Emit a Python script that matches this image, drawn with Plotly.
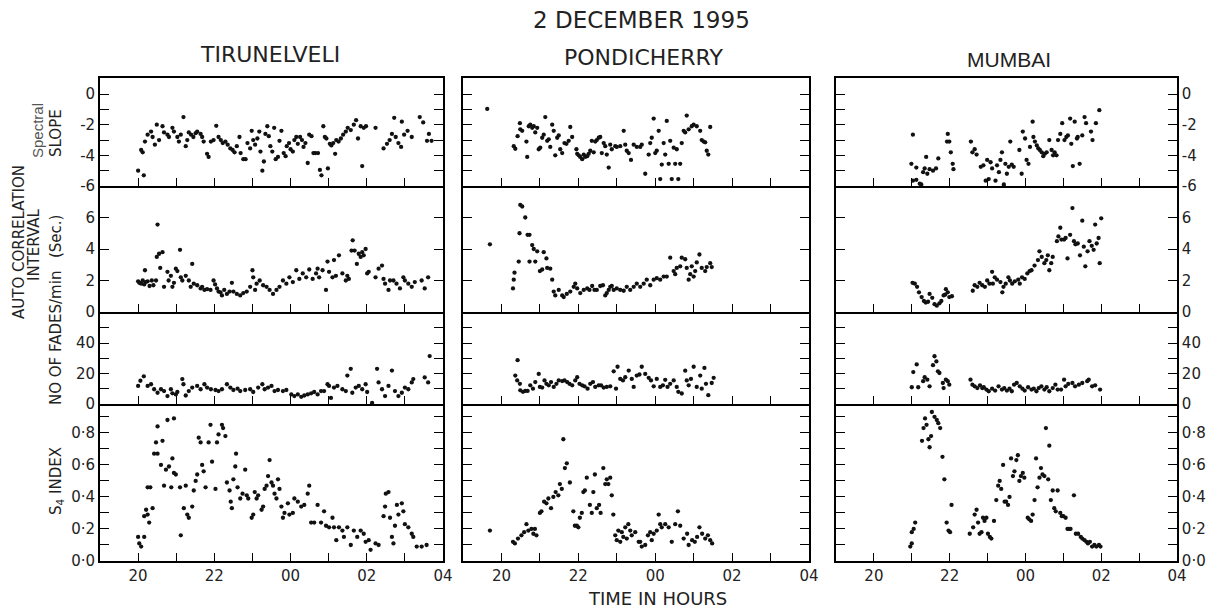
import plotly.graph_objects as go

# ---------------- DATA (time in hours, 24 = 00 h) ----------------
tir_slope_t = [20.00,20.15,20.08,20.12,20.18,20.25,20.34,20.38,20.44,20.49,20.55,20.64,20.68,20.77,20.81,20.90,20.94,21.03,21.07,21.12,
21.19,21.25,21.29,21.33,21.39,21.45,21.51,21.55,21.64,21.68,21.72,21.81,21.85,21.91,21.98,22.05,22.11,22.17,22.22,22.29,
22.35,22.42,22.48,22.53,22.59,22.66,22.69,22.76,22.82,22.87,22.94,22.98,23.02,23.07,23.13,23.18,23.21,23.26,23.30,23.34,
23.39,23.43,23.47,23.52,23.57,23.61,23.67,23.71,23.76,23.82,23.87,23.90,23.96,24.00,24.06,24.10,24.15,24.19,24.25,24.30,
24.34,24.39,24.45,24.49,24.55,24.60,24.65,24.72,24.77,24.81,24.86,24.90,24.94,24.98,25.03,25.07,25.12,25.17,25.20,25.26,
25.32,25.38,25.45,25.50,25.58,25.66,25.72,25.77,25.84,25.88,25.92,25.98,26.23,26.44,26.53,26.60,26.66,26.72,26.76,26.83,
26.90,26.92,26.98,27.07,27.18,27.39,27.48,27.58,27.63,27.70]
tir_slope_v = [-5.0,-5.3,-3.65,-3.8,-3.1,-2.65,-2.45,-2.8,-3.3,-2.0,-3.0,-2.1,-2.5,-2.65,-2.8,-2.2,-2.45,-2.8,-3.1,-2.65,
-1.5,-3.4,-3.0,-2.5,-2.65,-2.8,-2.55,-2.45,-2.6,-2.8,-3.1,-3.9,-4.1,-3.1,-3.0,-2.07,-2.8,-3.0,-3.2,-3.1,
-3.3,-3.55,-3.65,-3.8,-3.4,-2.8,-3.85,-4.25,-4.25,-3.2,-3.55,-2.4,-3.0,-3.3,-2.9,-2.45,-3.75,-5.0,-4.4,-2.6,
-2.1,-2.75,-3.4,-3.75,-2.2,-4.25,-4.1,-3.05,-2.4,-3.85,-4.05,-3.4,-3.2,-3.6,-3.75,-3.0,-2.8,-3.25,-2.8,-3.0,
-3.45,-3.2,-4.5,-2.65,-2.75,-3.85,-3.85,-3.85,-4.95,-5.3,-2.1,-2.8,-2.9,-4.85,-3.25,-3.35,-3.2,-3.9,-3.0,-3.1,
-2.9,-2.65,-2.45,-2.2,-2.35,-2.0,-1.7,-2.9,-2.1,-4.7,-2.2,-2.1,-2.2,-3.55,-3.25,-3.0,-2.6,-1.55,-2.8,-3.2,
-3.45,-1.8,-2.65,-2.4,-2.8,-1.5,-1.85,-3.05,-2.6,-3.05]

tir_aci_t = [20.0,20.03,20.08,20.12,20.16,20.2,20.18,20.25,20.3,20.36,20.4,20.47,20.49,20.51,20.55,20.58,20.64,20.68,20.77,20.8,
20.86,20.9,20.94,20.99,21.03,21.1,21.12,21.16,21.25,21.33,21.38,21.42,21.46,21.55,21.64,21.68,21.74,21.81,21.9,21.98,
22.02,22.07,22.11,22.16,22.2,22.26,22.33,22.4,22.46,22.5,22.59,22.68,22.94,23.0,23.02,23.07,23.11,23.19,23.28,23.37,
23.45,23.54,23.63,23.71,23.8,23.89,23.97,24.06,24.15,24.23,24.32,24.41,24.49,24.58,24.67,24.71,24.75,24.84,24.93,24.97,
25.01,25.1,25.14,25.19,25.27,25.36,25.45,25.49,25.53,25.6,25.63,25.68,25.74,25.79,25.84,25.88,25.92,25.97,26.01,26.05,
26.23,26.31,26.4,26.44,26.48,26.57,26.61,26.7,26.78,26.87,26.96,27.0,27.09,27.18,27.26,27.44,27.52,27.61,22.76,22.85]
tir_aci_v = [1.95,1.85,1.8,2.0,1.75,1.9,2.65,1.95,1.65,2.0,1.7,2.0,3.5,5.55,3.7,2.8,3.8,1.6,2.55,2.0,
2.3,1.6,1.85,2.75,2.6,3.95,2.2,2.0,2.3,2.0,1.6,3.05,1.8,1.7,1.5,1.6,1.4,1.45,1.4,2.0,
1.75,1.5,1.3,1.25,1.05,1.4,1.15,1.3,1.85,1.3,1.15,1.05,1.6,2.65,2.2,1.4,1.8,2.0,1.7,1.6,
1.4,1.15,1.4,1.6,2.0,1.8,2.2,1.9,2.65,2.1,2.45,2.2,2.7,2.1,2.45,2.75,2.2,2.65,1.4,3.2,
2.55,2.2,3.3,2.3,3.6,2.45,2.0,2.3,2.1,3.9,4.55,3.9,3.05,3.7,3.5,3.8,3.6,4.0,2.45,2.55,
2.2,2.75,2.95,2.1,1.8,1.4,2.0,2.0,1.8,1.5,2.2,2.0,1.8,1.6,1.9,2.0,1.5,2.2,1.2,1.3]

tir_fades_t = [20.0,20.06,20.15,20.25,20.34,20.42,20.51,20.6,20.68,20.77,20.86,20.9,20.99,21.03,21.16,21.19,21.25,21.33,21.42,21.55,
21.64,21.74,21.81,21.91,22.03,22.11,22.2,22.33,22.42,22.5,22.61,22.68,22.81,22.94,23.02,23.15,23.26,23.32,23.41,23.5,
23.58,23.67,23.8,23.89,24.02,24.1,24.19,24.28,24.36,24.45,24.54,24.62,24.71,24.8,24.88,24.97,25.01,25.06,25.14,25.23,
25.36,25.45,25.49,25.58,25.62,25.71,25.79,25.88,25.97,26.01,26.14,26.27,26.31,26.4,26.48,26.57,26.66,26.74,26.83,26.92,
27.0,27.09,27.18,27.22,27.52,27.61,27.65]
tir_fades_v = [11.9,15.3,18.2,11.9,13.0,9.7,7.4,9.7,8.5,5.2,9.7,7.0,6.3,7.9,16.4,13.0,5.6,8.5,10.8,11.9,
9.7,13.0,10.8,9.7,9.2,8.5,9.7,13.0,10.8,9.2,10.1,8.5,9.2,9.7,7.9,10.8,13.0,9.7,10.8,11.9,
8.5,9.2,8.5,9.2,6.3,5.2,6.3,4.7,5.6,6.3,7.0,7.9,6.3,8.5,8.5,13.0,11.9,4.0,10.8,11.9,
9.7,8.5,18.7,23.1,7.4,10.8,11.9,9.7,13.0,7.9,0.7,23.1,14.2,9.7,5.2,11.9,22.0,8.5,5.2,7.4,
10.8,9.7,14.2,16.4,17.5,14.2,31.5]

tir_s4_t = [20.0,20.03,20.08,20.16,20.16,20.21,20.25,20.29,20.38,20.25,20.32,20.42,20.51,20.47,20.51,20.64,20.6,20.68,20.73,20.77,
20.81,20.9,20.94,20.94,20.99,20.87,21.1,21.12,21.2,21.25,21.29,21.33,21.42,21.46,21.51,21.55,21.59,21.64,21.68,21.72,
21.77,21.85,21.9,21.94,22.03,22.07,22.11,22.2,22.23,22.29,22.33,22.4,22.43,22.46,22.5,22.55,22.57,22.61,22.68,22.74,
22.81,22.85,22.89,22.98,23.02,23.06,23.11,23.15,23.24,23.28,23.32,23.37,23.41,23.45,23.5,23.54,23.58,23.63,23.67,23.71,
23.76,23.8,23.84,23.93,23.97,24.06,24.1,24.19,24.28,24.36,24.45,24.49,24.54,24.62,24.71,24.8,24.88,24.93,25.01,25.1,
25.14,25.2,25.27,25.36,25.4,25.49,25.58,25.66,25.75,25.84,25.92,25.97,26.05,26.1,26.23,26.31,26.44,26.48,26.5,26.57,
26.61,26.66,26.7,26.74,26.79,26.83,26.92,26.96,27.0,27.09,27.18,27.22,27.31,27.44,27.57]
tir_s4_v = [0.15,0.11,0.09,0.15,0.28,0.32,0.29,0.24,0.33,0.46,0.46,0.67,0.67,0.74,0.84,0.75,0.6,0.47,0.57,0.88,
0.59,0.64,0.89,0.55,0.54,0.46,0.46,0.16,0.33,0.47,0.29,0.27,0.34,0.44,0.5,0.54,0.77,0.74,0.6,0.56,
0.46,0.74,0.85,0.62,0.45,0.74,0.79,0.85,0.83,0.78,0.49,0.44,0.37,0.33,0.51,0.59,0.67,0.46,0.39,0.42,
0.57,0.41,0.39,0.27,0.29,0.43,0.39,0.41,0.32,0.34,0.45,0.47,0.53,0.63,0.49,0.47,0.42,0.39,0.51,0.45,
0.34,0.27,0.3,0.36,0.29,0.3,0.39,0.37,0.34,0.35,0.42,0.47,0.24,0.24,0.35,0.24,0.31,0.22,0.21,0.27,
0.21,0.13,0.21,0.19,0.15,0.21,0.1,0.19,0.15,0.19,0.17,0.12,0.13,0.07,0.11,0.1,0.28,0.34,0.42,0.43,
0.27,0.15,0.11,0.22,0.35,0.29,0.36,0.31,0.23,0.21,0.17,0.15,0.09,0.09,0.1]

pon_slope_t = [19.63,20.32,20.36,20.42,20.48,20.49,20.54,20.65,20.67,20.71,20.75,20.8,20.84,20.88,20.93,20.97,21.01,21.06,21.1,21.14,
21.19,21.23,21.27,21.32,21.36,21.4,21.45,21.49,21.53,21.58,21.64,21.69,21.75,21.79,21.84,21.95,21.97,22.01,22.05,22.1,
22.14,22.18,22.23,22.27,22.31,22.35,22.4,22.44,22.48,22.53,22.57,22.61,22.66,22.7,22.74,22.79,22.83,22.87,22.96,23.0,
23.09,23.18,23.22,23.26,23.31,23.37,23.44,23.52,23.61,23.65,23.74,23.83,23.87,23.91,23.96,24.0,24.04,24.09,24.13,24.17,
24.22,24.26,24.3,24.35,24.39,24.43,24.48,24.52,24.56,24.6,24.65,24.69,24.74,24.78,24.82,24.87,24.95,25.0,25.08,25.17,
25.21,25.26,25.3,25.34,25.38,25.43]
pon_slope_v = [-0.97,-3.4,-3.57,-2.75,-1.9,-2.3,-2.4,-3.1,-4.1,-2.1,-2.0,-2.2,-2.1,-2.5,-2.2,-3.6,-3.5,-2.85,-2.65,-1.5,
-3.05,-2.95,-3.45,-2.0,-2.4,-4.0,-2.85,-2.7,-3.6,-3.85,-3.2,-3.25,-3.05,-2.15,-2.8,-3.6,-3.9,-4.0,-4.1,-4.25,
-3.95,-4.1,-4.05,-3.9,-3.7,-3.05,-3.8,-3.1,-3.0,-2.85,-2.8,-3.85,-3.2,-3.4,-3.95,-4.8,-3.3,-3.6,-3.4,-3.45,
-3.4,-2.4,-3.3,-3.7,-3.85,-4.3,-3.3,-3.45,-3.45,-3.3,-5.2,-3.95,-3.2,-2.85,-1.6,-3.85,-3.7,-2.4,-5.55,-4.6,
-3.2,-3.95,-1.75,-4.55,-3.05,-5.55,-3.5,-4.55,-3.6,-5.55,-4.55,-3.2,-2.4,-2.5,-1.4,-2.3,-2.1,-2.0,-2.1,-2.4,
-3.0,-3.1,-3.15,-3.7,-3.95,-2.15]

pon_aci_t = [19.7,20.3,20.32,20.34,20.45,20.47,20.49,20.54,20.62,20.68,20.73,20.73,20.8,20.84,20.88,20.93,21.0,21.06,21.1,21.17,
21.19,21.27,21.32,21.36,21.4,21.49,21.58,21.62,21.7,21.79,21.88,21.92,21.97,22.05,22.14,22.23,22.29,22.36,22.42,22.48,
22.57,22.64,22.7,22.74,22.79,22.83,22.87,22.92,23.0,23.09,23.18,23.26,23.35,23.44,23.52,23.61,23.7,23.78,23.87,23.96,
24.04,24.13,24.22,24.3,24.39,24.48,24.52,24.56,24.65,24.69,24.78,24.82,24.87,24.91,24.95,25.0,25.04,25.08,25.15,25.21,
25.3,25.34,25.43,25.47]
pon_aci_v = [4.3,1.5,2.05,2.5,3.2,5.0,6.8,6.7,6.0,4.9,4.9,3.2,4.25,4.0,3.2,3.85,2.6,2.7,3.8,3.4,
2.8,2.75,2.05,1.3,1.05,1.4,1.05,0.95,1.15,1.3,1.6,1.8,1.5,1.2,1.4,1.5,1.4,1.65,1.4,1.4,
1.65,1.7,1.05,1.2,1.4,1.6,1.65,1.4,1.5,1.4,1.35,1.6,1.4,1.6,1.8,1.6,1.8,2.05,1.7,2.05,
2.15,2.05,2.25,2.25,3.45,2.6,2.4,2.8,2.9,3.45,3.35,2.8,2.05,2.4,2.9,2.25,2.6,3.15,3.65,2.8,
2.6,2.85,3.1,2.85]

pon_fades_t = [20.42,20.36,20.41,20.48,20.49,20.56,20.62,20.68,20.75,20.82,20.88,20.97,21.0,21.06,21.12,21.17,21.23,21.29,21.36,21.43,
21.49,21.58,21.64,21.71,21.77,21.84,21.92,21.97,22.03,22.1,22.16,22.24,22.31,22.38,22.44,22.53,22.59,22.66,22.74,22.83,
22.92,22.98,23.02,23.09,23.16,23.22,23.31,23.39,23.44,23.52,23.59,23.65,23.74,23.83,23.89,23.96,24.04,24.13,24.2,24.26,
24.32,24.39,24.48,24.56,24.6,24.69,24.78,24.82,24.87,24.93,25.0,25.08,25.17,25.21,25.28,25.32,25.38,25.47,25.52]
pon_fades_v = [28.8,18.7,15.5,13.3,9.0,8.0,8.6,8.6,12.3,10.1,14.4,19.8,11.2,10.8,15.5,13.3,12.3,14.4,11.2,13.3,
15.5,15.1,15.5,14.4,13.3,12.3,15.5,17.6,13.3,12.3,11.6,10.1,13.3,14.4,11.2,12.3,12.3,10.8,11.2,11.6,
21.5,10.1,24.5,16.5,15.5,17.6,22.0,16.5,11.2,18.7,19.4,24.5,19.8,17.2,15.5,11.6,16.5,11.2,12.3,15.9,
11.2,13.3,15.5,11.2,8.0,6.9,21.9,15.5,12.3,16.5,24.5,11.2,18.7,10.1,23.7,13.3,5.8,13.8,17.2]

pon_s4_t = [19.7,20.3,20.35,20.43,20.52,20.59,20.65,20.7,20.78,20.83,20.87,20.91,21.0,21.04,21.11,21.17,21.22,21.29,21.35,21.41,
21.48,21.52,21.57,21.61,21.65,21.7,21.78,21.87,21.91,21.96,22.0,22.04,22.09,22.13,22.17,22.22,22.3,22.35,22.39,22.43,
22.48,22.54,22.58,22.65,22.7,22.74,22.78,22.83,22.87,22.91,22.96,23.0,23.04,23.09,23.13,23.17,23.22,23.26,23.3,23.35,
23.39,23.48,23.57,23.61,23.65,23.74,23.81,23.87,23.91,23.96,24.04,24.09,24.13,24.17,24.26,24.35,24.43,24.52,24.59,24.65,
24.74,24.83,24.87,24.96,25.03,25.09,25.15,25.22,25.3,25.37,25.43,25.48]
pon_s4_v = [0.19,0.12,0.11,0.14,0.16,0.18,0.23,0.19,0.2,0.17,0.2,0.16,0.3,0.31,0.37,0.36,0.39,0.33,0.4,0.43,
0.41,0.48,0.45,0.76,0.58,0.61,0.49,0.31,0.22,0.22,0.21,0.27,0.3,0.43,0.44,0.52,0.35,0.3,0.43,0.54,
0.33,0.35,0.3,0.58,0.48,0.51,0.48,0.52,0.41,0.29,0.16,0.13,0.19,0.12,0.18,0.15,0.21,0.14,0.23,0.19,
0.16,0.18,0.12,0.12,0.09,0.1,0.16,0.18,0.13,0.17,0.19,0.29,0.23,0.21,0.23,0.21,0.12,0.23,0.31,0.22,
0.14,0.17,0.1,0.13,0.12,0.15,0.21,0.17,0.14,0.16,0.13,0.11]

mum_slope_t = [21.03,20.99,21.12,21.03,21.12,21.21,21.25,21.3,21.34,21.38,21.41,21.47,21.56,21.64,21.7,21.93,21.95,21.99,22.03,22.08,
22.1,22.56,22.6,22.66,22.71,22.82,22.89,22.95,22.99,23.03,23.08,23.12,23.21,23.25,23.3,23.34,23.38,23.43,23.47,23.51,
23.56,23.6,23.64,23.69,23.84,23.9,23.93,23.99,24.03,24.08,24.12,24.19,24.21,24.25,24.3,24.34,24.38,24.43,24.47,24.51,
24.56,24.63,24.69,24.73,24.77,24.82,24.86,24.92,24.97,25.03,25.08,25.12,25.18,25.21,25.25,25.3,25.36,25.38,25.43,25.5,
25.56,25.6,25.73,25.77,25.86,25.95]
mum_slope_v = [-2.65,-4.55,-4.8,-5.65,-5.6,-5.85,-5.9,-5.1,-4.85,-4.1,-5.2,-4.9,-5.0,-4.85,-4.2,-3.1,-2.6,-3.1,-3.8,-4.55,
-4.9,-3.1,-3.8,-3.6,-3.95,-4.75,-4.65,-5.65,-4.3,-5.55,-4.45,-4.85,-5.65,-4.65,-5.1,-4.3,-3.8,-5.9,-4.55,-5.2,
-4.75,-3.1,-4.6,-4.75,-3.65,-5.2,-2.45,-2.9,-4.3,-4.55,-3.45,-1.8,-2.8,-3.1,-3.35,-3.55,-3.65,-3.8,-4.05,-3.9,
-3.8,-3.0,-3.65,-4.0,-3.8,-4.0,-3.0,-2.6,-1.9,-3.0,-2.8,-2.7,-1.6,-3.25,-4.7,-1.8,-2.9,-2.8,-4.55,-2.7,
-1.5,-1.9,-2.45,-3.0,-1.9,-1.05]

mum_aci_t = [21.02,21.08,21.14,21.19,21.26,21.32,21.37,21.43,21.47,21.54,21.6,21.66,21.73,21.78,21.84,21.88,21.9,21.95,21.99,22.06,
22.61,22.66,22.73,22.79,22.86,22.93,22.99,23.05,23.12,23.14,23.19,23.25,23.34,23.39,23.42,23.48,23.55,23.59,23.65,23.72,
23.81,23.85,23.91,23.98,24.05,24.11,24.16,24.24,24.33,24.37,24.43,24.5,24.55,24.59,24.63,24.68,24.72,24.83,24.87,24.92,
24.95,25.02,25.06,25.11,25.18,25.24,25.28,25.32,25.38,25.44,25.5,25.54,25.58,25.64,25.69,25.75,25.8,25.84,25.88,25.93,
25.96,26.0]
mum_aci_v = [1.85,1.8,1.6,1.25,0.95,0.7,0.6,0.65,1.15,0.9,0.5,0.4,0.55,0.7,1.05,1.1,1.45,1.25,0.95,1.0,
1.35,1.7,1.6,1.85,1.7,1.6,2.0,1.8,2.55,1.8,2.2,2.05,1.9,1.25,1.6,1.8,2.2,2.0,1.8,1.95,
2.05,1.8,2.2,2.1,2.45,2.6,2.65,2.95,3.3,3.85,3.5,3.1,3.3,3.6,2.65,3.1,3.5,4.5,4.8,5.35,
4.6,4.6,4.7,3.4,4.9,6.6,4.5,4.3,4.35,3.6,5.8,4.15,2.9,3.85,4.5,4.2,3.95,5.55,4.35,4.7,
3.1,5.95]

mum_fades_t = [21.0,21.04,21.13,21.17,21.3,21.34,21.41,21.47,21.56,21.6,21.65,21.69,21.73,21.82,21.84,21.9,21.95,21.99,22.55,22.6,
22.66,22.73,22.8,22.86,22.9,22.97,23.03,23.12,23.2,23.29,23.38,23.44,23.51,23.58,23.64,23.7,23.77,23.85,23.92,23.98,
24.07,24.16,24.22,24.29,24.35,24.42,24.5,24.56,24.63,24.72,24.79,24.85,24.94,25.02,25.06,25.13,25.24,25.31,25.41,25.5,
25.63,25.67,25.76,25.84,25.97]
mum_fades_v = [11.0,21.0,26.0,11.0,15.0,17.6,16.0,11.6,25.5,31.4,28.0,21.5,20.4,13.8,10.5,16.0,15.0,12.7,16.0,12.7,
11.6,10.5,12.3,10.5,11.0,9.5,8.4,10.1,8.8,11.6,9.5,10.5,8.8,10.1,8.4,12.7,13.8,11.6,10.1,8.8,
11.0,9.5,10.1,8.4,10.5,11.6,9.5,11.0,8.4,10.5,12.7,9.5,9.5,16.0,11.6,13.2,13.8,11.6,12.7,13.8,
15.0,16.0,11.6,12.3,9.5]

mum_s4_t = [20.96,21.0,21.0,21.05,21.09,21.27,21.31,21.35,21.39,21.44,21.47,21.51,21.53,21.6,21.66,21.7,21.75,21.81,21.86,21.92,
21.97,22.01,22.05,22.53,22.62,22.66,22.71,22.75,22.79,22.84,22.88,22.92,22.97,23.01,23.06,23.1,23.17,23.23,23.28,23.32,
23.36,23.41,23.45,23.49,23.54,23.58,23.62,23.67,23.71,23.76,23.8,23.84,23.88,23.93,23.97,24.06,24.1,24.15,24.19,24.24,
24.28,24.32,24.37,24.41,24.45,24.5,24.54,24.6,24.63,24.67,24.72,24.76,24.8,24.85,24.92,24.96,25.0,25.06,25.11,25.15,
25.19,25.28,25.33,25.39,25.46,25.5,25.56,25.61,25.65,25.7,25.76,25.82,25.87,25.94,25.98]
mum_s4_v = [0.09,0.11,0.18,0.2,0.24,0.75,0.83,0.89,0.85,0.76,0.71,0.78,0.93,0.9,0.88,0.86,0.83,0.65,0.51,0.24,
0.19,0.18,0.35,0.17,0.21,0.29,0.32,0.24,0.17,0.18,0.27,0.25,0.27,0.17,0.15,0.14,0.25,0.38,0.47,0.5,
0.45,0.6,0.37,0.37,0.35,0.4,0.64,0.53,0.56,0.63,0.66,0.5,0.53,0.55,0.52,0.27,0.26,0.25,0.29,0.38,
0.64,0.46,0.52,0.58,0.54,0.53,0.83,0.51,0.72,0.38,0.44,0.33,0.31,0.44,0.3,0.28,0.28,0.27,0.2,0.2,
0.2,0.41,0.17,0.17,0.15,0.14,0.13,0.12,0.11,0.12,0.09,0.1,0.09,0.1,0.09]

# ---------------- TICKS ----------------
hour_major = [20, 22, 24, 26, 28]
hour_labels = ["20", "22", "00", "02", "04"]
hour_minor = [21, 23, 25, 27]
row_ranges = [[-6, 1.05], [0, 8], [0, 60.5], [0, 0.98]]
row_major = [[-6, -4, -2, 0], [0, 2, 4, 6], [0, 20, 40], [0, 0.2, 0.4, 0.6, 0.8]]
row_labels = [["-6", "-4", "-2", "0"], ["0", "2", "4", "6"], ["0", "20", "40"],
              ["0·0", "0·2", "0·4", "0·6", "0·8"]]
row_minor = [[-5, -3, -1], [], [10, 30, 50], [0.1, 0.3, 0.5, 0.7, 0.9]]

stations = [
    [(tir_slope_t, tir_slope_v), (tir_aci_t, tir_aci_v), (tir_fades_t, tir_fades_v), (tir_s4_t, tir_s4_v)],
    [(pon_slope_t, pon_slope_v), (pon_aci_t, pon_aci_v), (pon_fades_t, pon_fades_v), (pon_s4_t, pon_s4_v)],
    [(mum_slope_t, mum_slope_v), (mum_aci_t, mum_aci_v), (mum_fades_t, mum_fades_v), (mum_s4_t, mum_s4_v)],
]

# ---------------- LAYOUT ----------------
OFF = 8                      # page body margin of the browser
W, H = 1212, 601
ML, MT = 100 - OFF, 78 - OFF
PR, PB = 1177 - OFF, 561 - OFF
MR, MB = W - PR, H - PB
PW, PH = PR - ML, PB - MT

col_px = [(100, 443), (463, 809), (836, 1177)]
row_px = [(78, 186), (186, 312), (312, 404), (404, 561)]

def px_x(p):
    return (p - OFF - ML) / PW

def px_y(p):
    return (PB - (p - OFF)) / PH

fig = go.Figure()
layout = dict(
    width=W, height=H, margin=dict(l=ML, r=MR, t=MT, b=MB, autoexpand=False),
    paper_bgcolor="white", plot_bgcolor="white", showlegend=False,
    font=dict(family="DejaVu Sans", color="#222"),
)

tickfont = dict(family="DejaVu Sans", size=15, color="#222")
for c in range(3):
    for r in range(4):
        n = r * 3 + c + 1
        t, v = stations[c][r]
        m = min(len(t), len(v))
        fig.add_trace(go.Scatter(
            x=t[:m], y=v[:m], mode="markers",
            marker=dict(size=4.3, color="#111"),
            xaxis="x%d" % n, yaxis="y%d" % n, hoverinfo="skip"))
        xd = [px_x(col_px[c][0]), px_x(col_px[c][1])]
        yd = [px_y(row_px[r][1]), px_y(row_px[r][0])]
        xa = dict(domain=xd, anchor="y%d" % n, range=[19, 28],
                  showline=True, linecolor="black", linewidth=1.7,
                  mirror=(r == 0),
                  ticks="inside", ticklen=8, tickwidth=1.4, tickcolor="black",
                  tickvals=hour_major, ticktext=hour_labels,
                  minor=dict(tickvals=hour_minor, ticks="inside", ticklen=8,
                             tickwidth=1.4, tickcolor="black", showgrid=False),
                  showgrid=False, zeroline=False, showticklabels=(r == 3),
                  tickfont=tickfont)
        ya = dict(domain=yd, anchor="x%d" % n, range=row_ranges[r],
                  showline=True, linecolor="black", linewidth=1.7, mirror="ticks",
                  ticks="inside", ticklen=9, tickwidth=1.4, tickcolor="black",
                  tickvals=row_major[r], ticktext=row_labels[r],
                  showgrid=False, zeroline=False, showticklabels=(c != 1),
                  tickfont=tickfont, side=("right" if c == 2 else "left"))
        if row_minor[r]:
            ya["minor"] = dict(tickvals=row_minor[r], ticks="inside", ticklen=9,
                               tickwidth=1.4, tickcolor="black", showgrid=False)
        layout["xaxis%d" % n] = xa
        layout["yaxis%d" % n] = ya

fig.update_layout(**layout)

def ann(text, px, py, size, angle=0, family="DejaVu Sans", color="#222"):
    fig.add_annotation(text=text, x=px_x(px), y=px_y(py), xref="paper", yref="paper",
                       showarrow=False, textangle=angle, xanchor="center", yanchor="middle",
                       font=dict(family=family, size=size, color=color))

ann("2 DECEMBER 1995", 641, 20, 23)
ann("TIRUNELVELI", 270, 55, 22)
ann("PONDICHERRY", 643, 57, 22)
ann("MUMBAI", 1009, 59, 21, family="Liberation Sans")
ann("TIME IN HOURS", 657, 598, 18)
ann("Spectral", 38, 131, 15, angle=-90, family="Liberation Sans", color="#555")
ann("SLOPE", 56, 133, 15, angle=-90)
ann("AUTO CORRELATION", 19, 242, 15, angle=-90)
ann("INTERVAL", 34, 245, 15, angle=-90)
ann("(Sec.)", 56, 237, 15, angle=-90)
ann("NO OF FADES/min", 56, 338, 15, angle=-90)
ann("S<sub>4</sub> INDEX", 56, 481, 15, angle=-90)

fig.write_html("out.html")
